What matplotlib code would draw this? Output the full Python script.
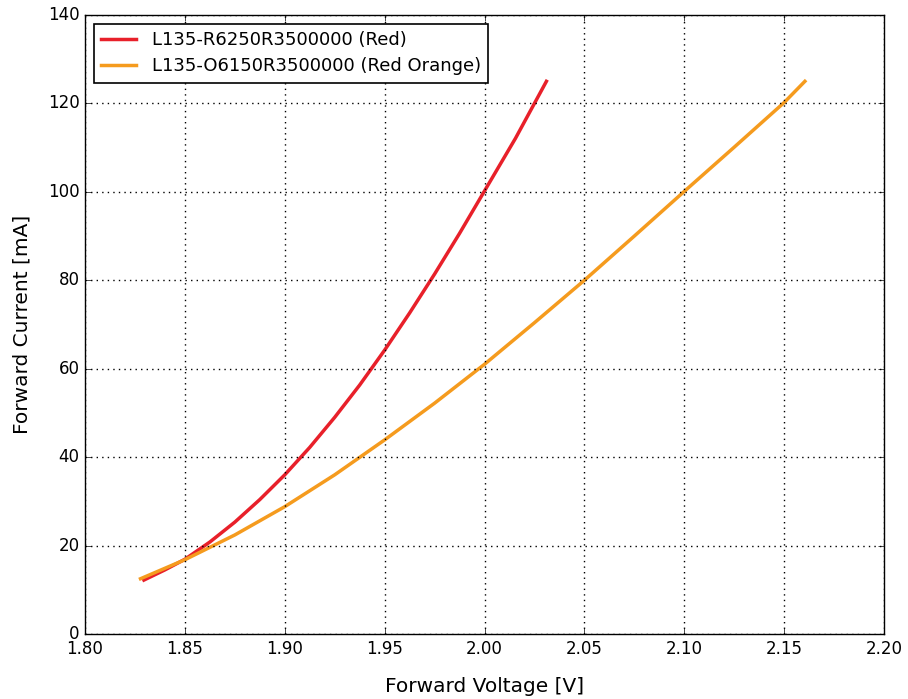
import matplotlib.pyplot as plt

# Forward voltage [V] / forward current [mA]
red_v = [1.8295, 1.840, 1.850, 1.8625, 1.875, 1.8875, 1.900, 1.9125, 1.925, 1.9375,
         1.950, 1.9625, 1.975, 1.9875, 2.000, 2.0155, 2.031]
red_i = [12.2, 14.5, 16.9, 20.8, 25.3, 30.4, 36.0, 42.2, 49.0, 56.3,
         64.2, 72.6, 81.4, 90.6, 100.2, 112.1, 125.0]

orange_v = [1.8278, 1.850, 1.875, 1.900, 1.925, 1.950, 1.975, 2.000, 2.025,
            2.050, 2.075, 2.100, 2.125, 2.150, 2.1604]
orange_i = [12.5, 16.8, 22.4, 28.8, 36.0, 43.9, 52.2, 61.0, 70.4,
            80.0, 90.0, 100.1, 110.1, 120.2, 125.0]

labels = ['L135-R6250R3500000 (Red)', 'L135-O6150R3500000 (Red Orange)']

plt.style.use('classic')
fig = plt.figure(figsize=(9.08, 6.99), dpi=100, facecolor='white')
ax = fig.add_axes([85 / 908, 65 / 699, 799 / 908, 619 / 699])

ax.plot(red_v, red_i, color='#e8202a', lw=2.5, label=labels[0])
ax.plot(orange_v, orange_i, color='#f59b1e', lw=2.5, label=labels[1])

ax.set_xlim(1.80, 2.20)
ax.set_ylim(0, 140)
ax.set_xticks([1.80, 1.85, 1.90, 1.95, 2.00, 2.05, 2.10, 2.15, 2.20])
ax.set_xticklabels(['%.2f' % t for t in ax.get_xticks()])
ax.grid(True, color='black', linestyle=':', linewidth=1)
ax.tick_params(labelsize=12)

ax.set_xlabel('Forward Voltage [V]', fontsize=14.5, labelpad=14)
ax.set_ylabel('Forward Current [mA]', fontsize=14.5, labelpad=12)

leg = ax.legend(loc='upper left', fontsize=13, numpoints=1, handlelength=1.9,
                handletextpad=0.9, labelspacing=0.45, borderpad=0.4)
leg.get_frame().set_linewidth(1.2)

fig.savefig('out.png', dpi=100, facecolor='white')
